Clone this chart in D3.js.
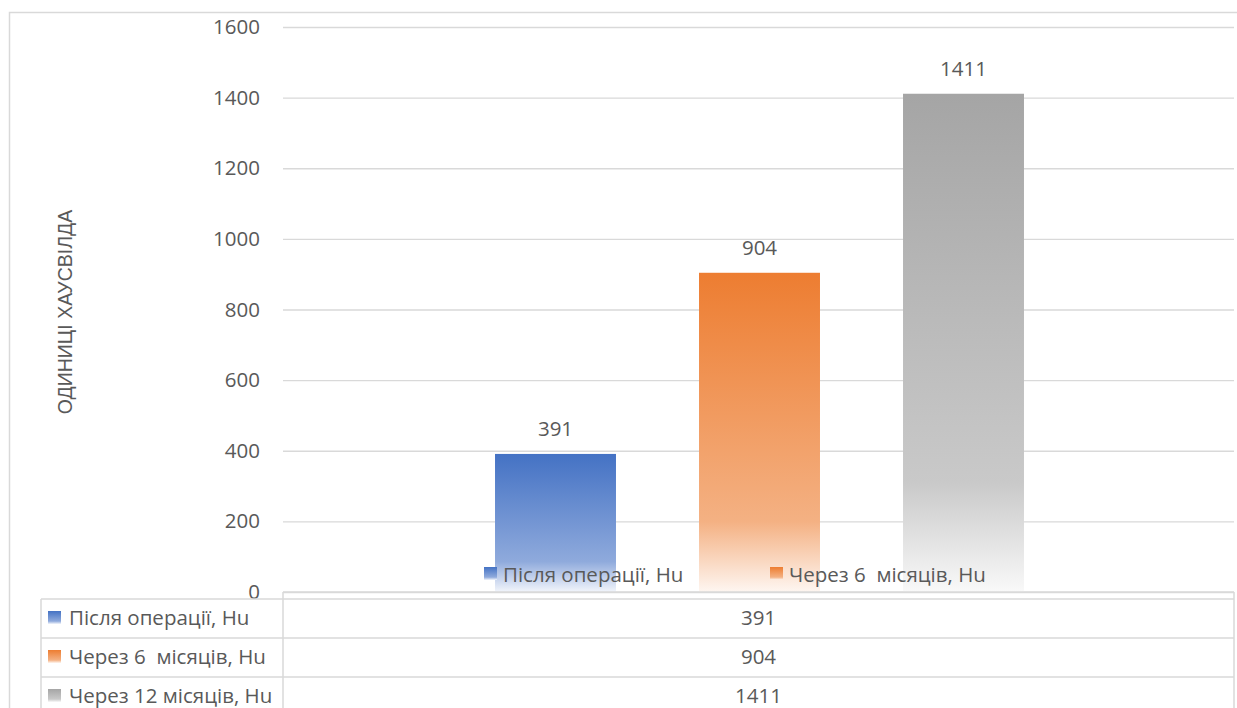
<!DOCTYPE html>
<html>
<head>
<meta charset="utf-8">
<script src="https://cdn.jsdelivr.net/npm/d3@7"></script>
<style>
  html, body { margin: 0; padding: 0; background: #fff; }
  svg { display: block; }
  text { font-family: "Open Sans", "Noto Sans", sans-serif; fill: #595959; white-space: pre; }
</style>
</head>
<body>
<svg id="chart" width="1237" height="708"></svg>
<script>
// Series names (one per bar) and their values
const seriesNames = ["Після операції, Нu", "Через 6  місяців, Нu", "Через 12 місяців, Нu"];
const seriesValues = [391, 904, 1411];
const seriesColors = ["#4472C4", "#ED7D31", "#A5A5A5"];
const yTicks = [0, 200, 400, 600, 800, 1000, 1200, 1400, 1600];
const yTitle = "ОДИНИЦІ ХАУСВІЛДА";

const W = 1237, H = 708;
const plot = { left: 283, right: 1234, top: 27, bottom: 592 };
const gridColor = "#d9d9d9";
const fs = "20.5px";

const svg = d3.select("#chart");
const defs = svg.append("defs");

// vertical fade for each bar: full colour at top, near-white at the base
seriesColors.forEach((c, i) => {
  const g = defs.append("linearGradient")
    .attr("id", "grad" + i)
    .attr("x1", 0).attr("y1", 0).attr("x2", 0).attr("y2", 1);
  g.append("stop").attr("offset", "0%").attr("stop-color", c);
  g.append("stop").attr("offset", "78%").attr("stop-color", d3.interpolateRgb(c, "#fff")(0.4));
  g.append("stop").attr("offset", "100%").attr("stop-color", d3.interpolateRgb(c, "#fff")(0.93));
});

const y = d3.scaleLinear().domain([0, 1600]).range([plot.bottom, plot.top]);
const x = d3.scaleBand()
  .domain(seriesNames)
  .range([453.5, 1065.5])
  .paddingInner(0.407)
  .paddingOuter(0.2035);

// outer chart frame
svg.append("path")
  .attr("d", `M9.5,${H} V12.5 H${W}`)
  .attr("fill", "none").attr("stroke", gridColor).attr("stroke-width", 1.5);

// gridlines + tick labels
const yAxis = d3.axisLeft(y)
  .tickValues(yTicks)
  .tickFormat(d3.format("d"))
  .tickSize(-(plot.right - plot.left))
  .tickPadding(23);
const gAxis = svg.append("g")
  .attr("transform", `translate(${plot.left},0)`)
  .call(yAxis);
gAxis.select(".domain").remove();
gAxis.selectAll(".tick line").attr("stroke", gridColor).attr("stroke-width", 1.3);
gAxis.selectAll(".tick text")
  .attr("fill", "#595959")
  .style("font-family", "'Open Sans', sans-serif")
  .style("font-size", fs);

// axis title
svg.append("text")
  .attr("transform", `translate(72,${312}) rotate(-90)`)
  .attr("text-anchor", "middle")
  .style("font-family", "'Liberation Sans', Arial, sans-serif")
  .style("font-size", "19.5px")
  .text(yTitle);

// bars
svg.append("g").selectAll("rect")
  .data(seriesValues)
  .join("rect")
  .attr("x", (d, i) => x(seriesNames[i]))
  .attr("width", x.bandwidth())
  .attr("y", d => y(d))
  .attr("height", d => y(0) - y(d))
  .attr("fill", (d, i) => `url(#grad${i})`);

// value labels above bars
svg.append("g").selectAll("text")
  .data(seriesValues)
  .join("text")
  .attr("x", (d, i) => x(seriesNames[i]) + x.bandwidth() / 2)
  .attr("y", d => y(d) - 18)
  .attr("text-anchor", "middle")
  .style("font-size", fs)
  .text(d => d);

// in-plot legend (first two entries)
const legendPos = [484, 770];
legendPos.forEach((lx, i) => {
  svg.append("rect")
    .attr("x", lx).attr("y", 567).attr("width", 13).attr("height", 13)
    .attr("fill", `url(#grad${i})`);
  svg.append("text")
    .attr("x", lx + 19).attr("y", 582)
    .style("font-size", fs)
    .text(seriesNames[i]);
});

// data table under the plot
const tbl = { left: 41, split: plot.left, right: plot.right, top: 599, rowH: 39 };
const tg = svg.append("g");
const line = (x1, y1, x2, y2) => tg.append("line")
  .attr("x1", x1).attr("y1", y1).attr("x2", x2).attr("y2", y2)
  .attr("stroke", gridColor).attr("stroke-width", 1.5);

line(tbl.split, plot.bottom, tbl.right, plot.bottom);
line(tbl.split, plot.bottom, tbl.split, H);
line(tbl.right, plot.bottom, tbl.right, H);
line(tbl.left, tbl.top, tbl.left, H);
seriesNames.forEach((name, i) => {
  const ry = tbl.top + i * tbl.rowH;
  line(tbl.left, ry, tbl.right, ry);
  tg.append("rect")
    .attr("x", 48).attr("y", ry + 12).attr("width", 13).attr("height", 13)
    .attr("fill", `url(#grad${i})`);
  tg.append("text")
    .attr("x", 69).attr("y", ry + 26)
    .style("font-size", fs)
    .text(name);
  tg.append("text")
    .attr("x", (tbl.split + tbl.right) / 2).attr("y", ry + 26)
    .attr("text-anchor", "middle")
    .style("font-size", fs)
    .text(seriesValues[i]);
});
</script>
</body>
</html>
